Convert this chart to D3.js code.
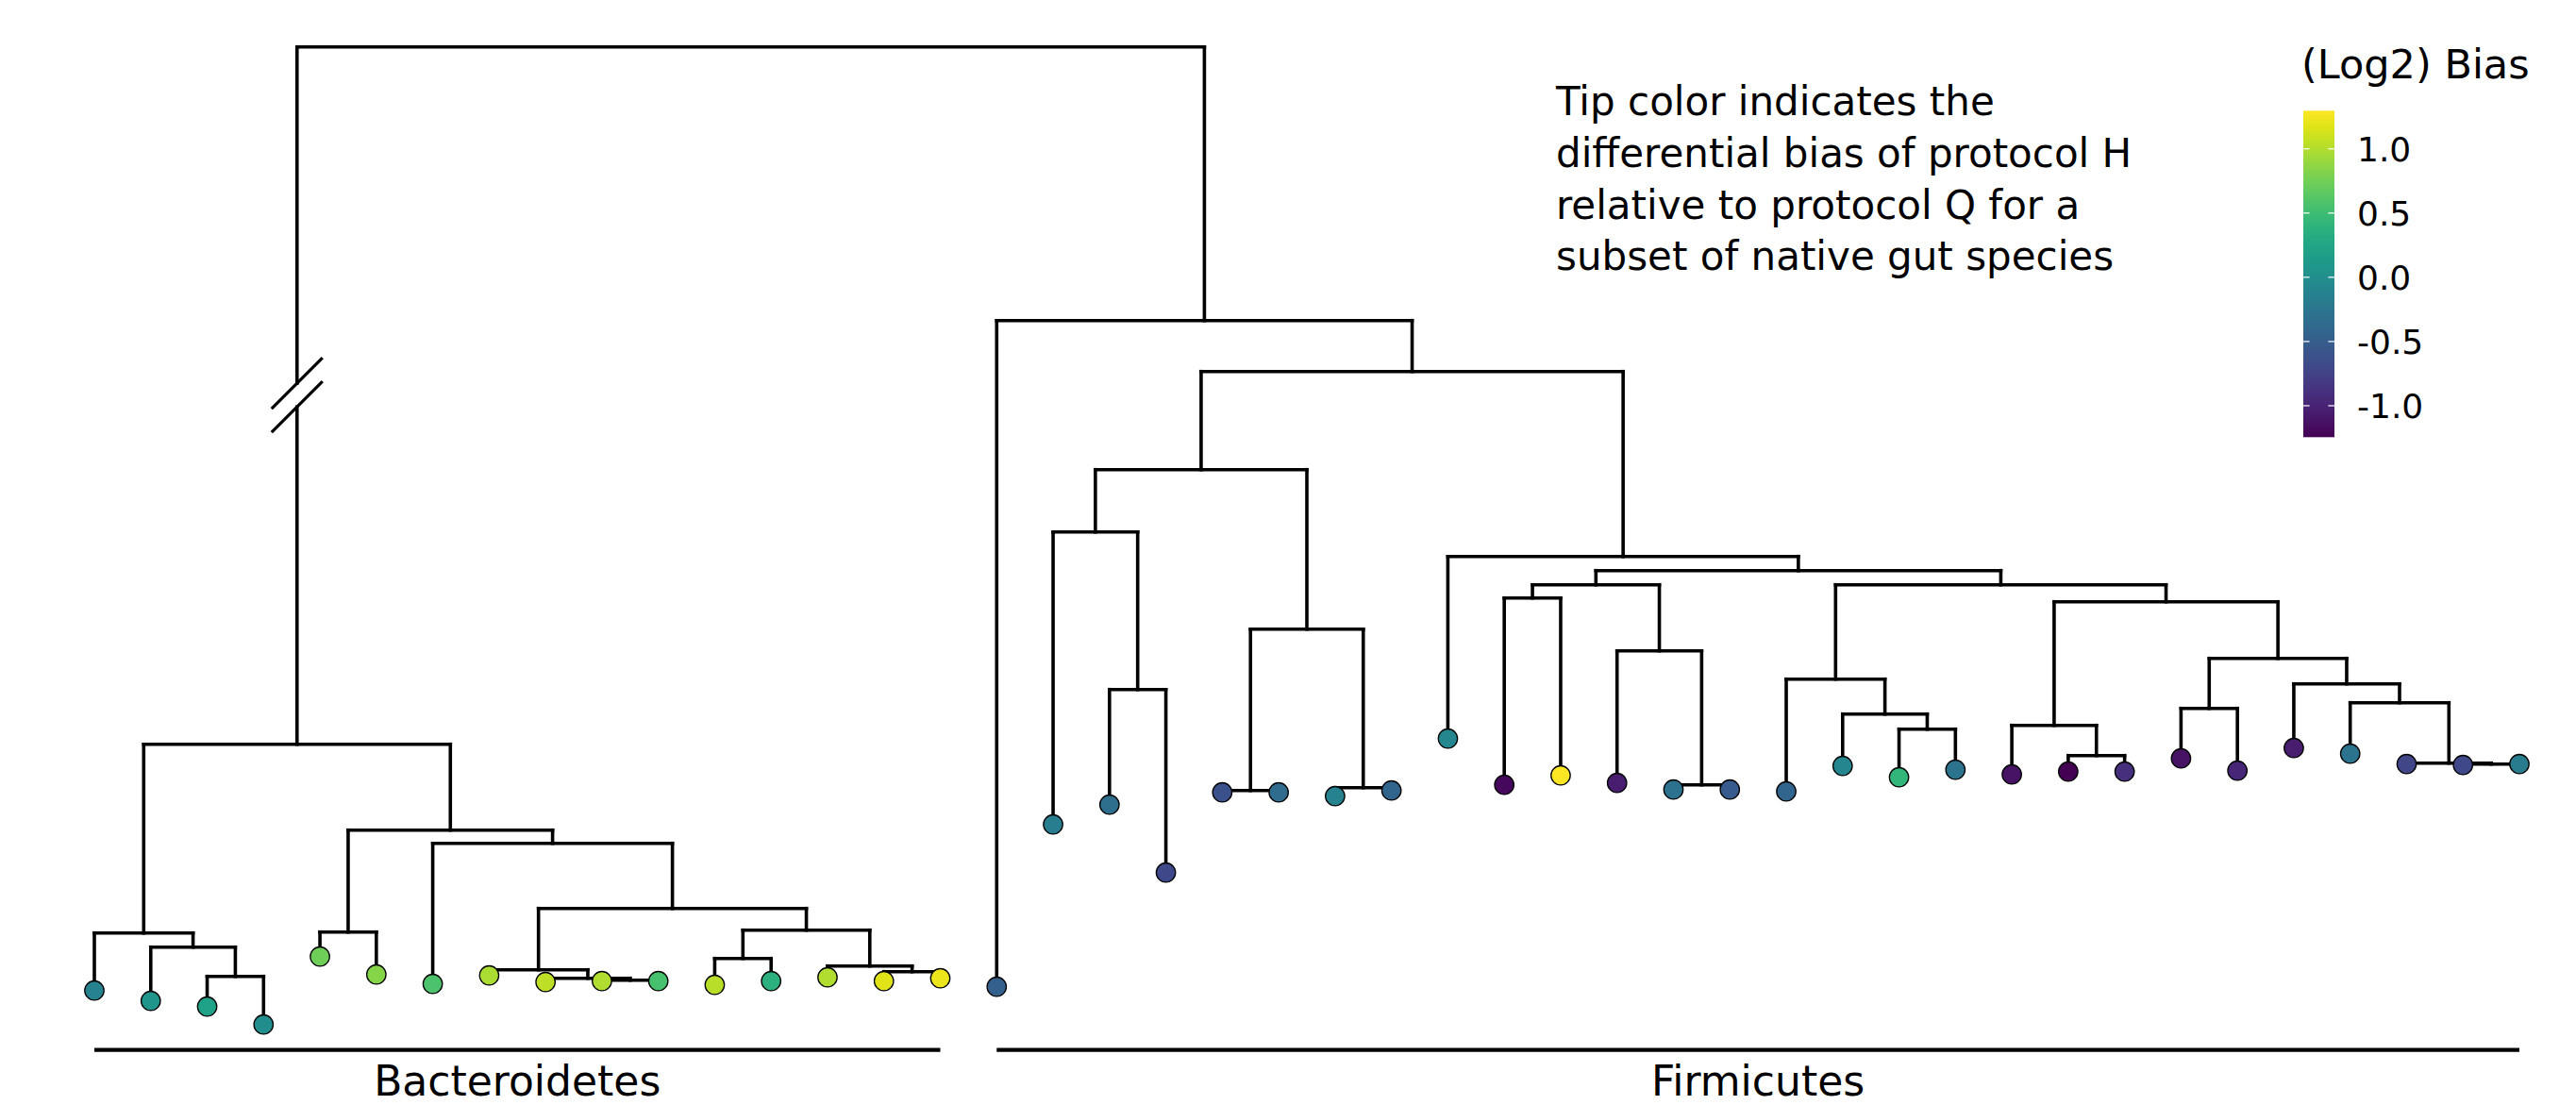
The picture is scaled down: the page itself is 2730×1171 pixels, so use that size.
<!DOCTYPE html>
<html>
<head>
<meta charset="utf-8">
<script src="https://cdn.jsdelivr.net/npm/d3@7/dist/d3.min.js"></script>
<style>
  body { margin: 0; background: #fff; }
  svg { display: block; }
  text { font-family: "DejaVu Sans", sans-serif; fill: #000; }
</style>
</head>
<body>
<div id="chart"></div>
<script>
// tree table: [node, parent, distance from root]  (listed left to right)
const treeRows = [
  ["root", null, 0],
  ["bact", "root", 0.739],
  ["b0_3", "bact", 0.939],
  ["t0", "b0_3", 1.000],
  ["b1_3", "b0_3", 0.954],
  ["t1", "b1_3", 1.011],
  ["b2_3", "b1_3", 0.985],
  ["t2", "b2_3", 1.017],
  ["t3", "b2_3", 1.036],
  ["b4_15", "bact", 0.830],
  ["b4_5", "b4_15", 0.938],
  ["t4", "b4_5", 0.964],
  ["t5", "b4_5", 0.983],
  ["b6_15", "b4_15", 0.844],
  ["t6", "b6_15", 0.993],
  ["b7_15", "b6_15", 0.913],
  ["b7_10", "b7_15", 0.978],
  ["t7", "b7_10", 0.984],
  ["b8_10", "b7_10", 0.987],
  ["t8", "b8_10", 0.991],
  ["b9_10", "b8_10", 0.989],
  ["t9", "b9_10", 0.990],
  ["t10", "b9_10", 0.990],
  ["b11_15", "b7_15", 0.936],
  ["b11_12", "b11_15", 0.966],
  ["t11", "b11_12", 0.994],
  ["t12", "b11_12", 0.990],
  ["b13_15", "b11_15", 0.974],
  ["t13", "b13_15", 0.986],
  ["b14_15", "b13_15", 0.980],
  ["t14", "b14_15", 0.990],
  ["t15", "b14_15", 0.987],
  ["firm", "root", 0.290],
  ["t16", "firm", 0.996],
  ["f17_43", "firm", 0.344],
  ["f17_23", "f17_43", 0.448],
  ["f17_19", "f17_23", 0.514],
  ["t17", "f17_19", 0.824],
  ["f18_19", "f17_19", 0.681],
  ["t18", "f18_19", 0.803],
  ["t19", "f18_19", 0.875],
  ["f20_23", "f17_23", 0.617],
  ["f20_21", "f20_23", 0.788],
  ["t20", "f20_21", 0.790],
  ["t21", "f20_21", 0.790],
  ["f22_23", "f20_23", 0.785],
  ["t22", "f22_23", 0.794],
  ["t23", "f22_23", 0.788],
  ["f24_43", "f17_43", 0.540],
  ["t24", "f24_43", 0.733],
  ["f25_43", "f24_43", 0.555],
  ["f25_29", "f25_43", 0.570],
  ["f25_26", "f25_29", 0.584],
  ["t25", "f25_26", 0.782],
  ["t26", "f25_26", 0.772],
  ["f27_29", "f25_29", 0.640],
  ["t27", "f27_29", 0.780],
  ["f28_29", "f27_29", 0.782],
  ["t28", "f28_29", 0.787],
  ["t29", "f28_29", 0.787],
  ["f30_43", "f25_43", 0.570],
  ["f30_33", "f30_43", 0.670],
  ["t30", "f30_33", 0.789],
  ["f31_33", "f30_33", 0.707],
  ["t31", "f31_33", 0.762],
  ["f32_33", "f31_33", 0.723],
  ["t32", "f32_33", 0.774],
  ["t33", "f32_33", 0.766],
  ["f34_43", "f30_43", 0.588],
  ["f34_36", "f34_43", 0.719],
  ["t34", "f34_36", 0.771],
  ["f35_36", "f34_36", 0.751],
  ["t35", "f35_36", 0.768],
  ["t36", "f35_36", 0.768],
  ["f37_43", "f34_43", 0.648],
  ["f37_38", "f37_43", 0.701],
  ["t37", "f37_38", 0.754],
  ["t38", "f37_38", 0.767],
  ["f39_43", "f37_43", 0.675],
  ["t39", "f39_43", 0.743],
  ["f40_43", "f39_43", 0.695],
  ["t40", "f40_43", 0.749],
  ["f41_43", "f40_43", 0.759],
  ["t41", "f41_43", 0.760],
  ["f42_43", "f41_43", 0.760],
  ["t42", "f42_43", 0.761],
  ["t43", "f42_43", 0.760]
];

// (log2) differential bias per tip, t0..t43
const tipBias = [
  -0.13, 0.08, 0.22, 0.00, 0.74, 0.84, 0.58, 0.97, 1.04, 0.99, 0.56, 1.02, 0.38, 0.99, 1.17, 1.22,
  -0.48, -0.18, -0.33, -0.69, -0.61, -0.36, -0.13, -0.43, -0.08, -1.19, 1.297, -1.04, -0.30, -0.53,
  -0.43, -0.08, 0.43, -0.28, -1.12, -1.245, -0.89, -1.12, -0.97, -1.04, -0.28, -0.71, -0.69, -0.20
];

const breakBranch = "bact";     // long branch drawn shortened
const breakDepth = 0.369;

const groupNames = ["Bacteroidetes", "Firmicutes"];
const groupFirstTip = ["t0", "t16"];
const groupLastTip = ["t15", "t43"];

const legendTitle = "(Log2) Bias";
const legendTicks = [-1.0, -0.5, 0.0, 0.5, 1.0];

const noteLines = [
  "Tip color indicates the",
  "differential bias of protocol H",
  "relative to protocol Q for a",
  "subset of native gut species"
];

const width = 2730, height = 1171;

const svg = d3.select("#chart").append("svg")
  .attr("width", width)
  .attr("height", height);

svg.append("rect").attr("width", width).attr("height", height).attr("fill", "#fff");

const root = d3.stratify()
  .id(d => d[0])
  .parentId(d => d[1])(treeRows);

d3.cluster().nodeSize([1, 1]).separation(() => 1)(root);

const leaves = root.leaves();
const x = d3.scaleLinear()
  .domain(d3.extent(leaves, d => d.x))
  .range([100, 2670]);
const y = d3.scaleLinear()
  .domain([0, 1])
  .range([49.7, 1049.7]);

const color = d3.scaleSequential(d3.interpolateViridis)
  .domain(d3.extent(tipBias));

const byId = new Map(root.descendants().map(n => [n.id, n]));

const lineW = 3.6;
const g = svg.append("g")
  .attr("stroke", "#000")
  .attr("stroke-width", lineW)
  .attr("stroke-linecap", "square")
  .attr("fill", "none");

// vertical branches
root.descendants().filter(n => n.parent).forEach(n => {
  const x0 = x(n.x);
  const yTop = y(n.parent.data[2]), yBot = y(n.data[2]);
  if (n.id === breakBranch) {
    const yb = y(breakDepth);
    g.append("line").attr("x1", x0).attr("x2", x0).attr("y1", yTop).attr("y2", yb - 12.5);
    g.append("line").attr("x1", x0).attr("x2", x0).attr("y1", yb + 12.5).attr("y2", yBot);
    [-12.5, 12.5].forEach(off => {
      g.append("line")
        .attr("stroke-width", 3.2)
        .attr("stroke-linecap", "butt")
        .attr("x1", x0 - 27).attr("y1", yb + off + 27)
        .attr("x2", x0 + 27).attr("y2", yb + off - 27);
    });
  } else {
    g.append("line").attr("x1", x0).attr("x2", x0).attr("y1", yTop).attr("y2", yBot);
  }
});

// horizontal connectors
root.descendants().filter(n => n.children).forEach(n => {
  const kids = n.children;
  g.append("line")
    .attr("x1", x(kids[0].x)).attr("x2", x(kids[kids.length - 1].x))
    .attr("y1", y(n.data[2])).attr("y2", y(n.data[2]));
});

// tips
svg.append("g").selectAll("circle")
  .data(leaves)
  .join("circle")
  .attr("cx", d => x(d.x))
  .attr("cy", d => y(d.data[2]))
  .attr("r", 10.2)
  .attr("fill", d => color(tipBias[+d.id.slice(1)]))
  .attr("stroke", "#000")
  .attr("stroke-width", 1.3);

// group bars and labels
groupNames.forEach((name, i) => {
  const a = x(byId.get(groupFirstTip[i]).x), b = x(byId.get(groupLastTip[i]).x);
  svg.append("line")
    .attr("x1", a).attr("x2", b)
    .attr("y1", 1112.7).attr("y2", 1112.7)
    .attr("stroke", "#000").attr("stroke-width", 4.2);
  svg.append("text")
    .attr("x", (a + b) / 2).attr("y", 1161)
    .attr("text-anchor", "middle")
    .attr("font-size", 44)
    .text(name);
});

// note
svg.append("g").selectAll("text")
  .data(noteLines)
  .join("text")
  .attr("x", 1649)
  .attr("y", (d, i) => 121.7 + i * 54.9)
  .attr("font-size", 42)
  .text(d => d);

// colour bar legend
const barX = 2441, barW = 33;
const barScale = d3.scaleLinear().domain(color.domain()).range([463.3, 117.3]);

const grad = svg.append("defs").append("linearGradient")
  .attr("id", "biasGrad")
  .attr("x1", 0).attr("y1", 1).attr("x2", 0).attr("y2", 0);
d3.range(0, 1.0001, 0.05).forEach(t => {
  grad.append("stop").attr("offset", t).attr("stop-color", d3.interpolateViridis(t));
});

svg.append("rect")
  .attr("x", barX).attr("y", barScale.range()[1])
  .attr("width", barW).attr("height", barScale.range()[0] - barScale.range()[1])
  .attr("fill", "url(#biasGrad)");

const tk = svg.append("g").attr("stroke", "#fff").attr("stroke-width", 1.2);
legendTicks.forEach(v => {
  const ty = barScale(v);
  tk.append("line").attr("x1", barX).attr("x2", barX + 6.6).attr("y1", ty).attr("y2", ty);
  tk.append("line").attr("x1", barX + barW - 6.6).attr("x2", barX + barW).attr("y1", ty).attr("y2", ty);
});

svg.append("g").selectAll("text")
  .data(legendTicks)
  .join("text")
  .attr("x", 2498)
  .attr("y", d => barScale(d))
  .attr("dy", "0.36em")
  .attr("font-size", 36)
  .text(d => d3.format(".1f")(d).replace("−", "-"));

svg.append("text")
  .attr("x", 2439).attr("y", 83.3)
  .attr("font-size", 43)
  .text(legendTitle);
</script>
</body>
</html>
